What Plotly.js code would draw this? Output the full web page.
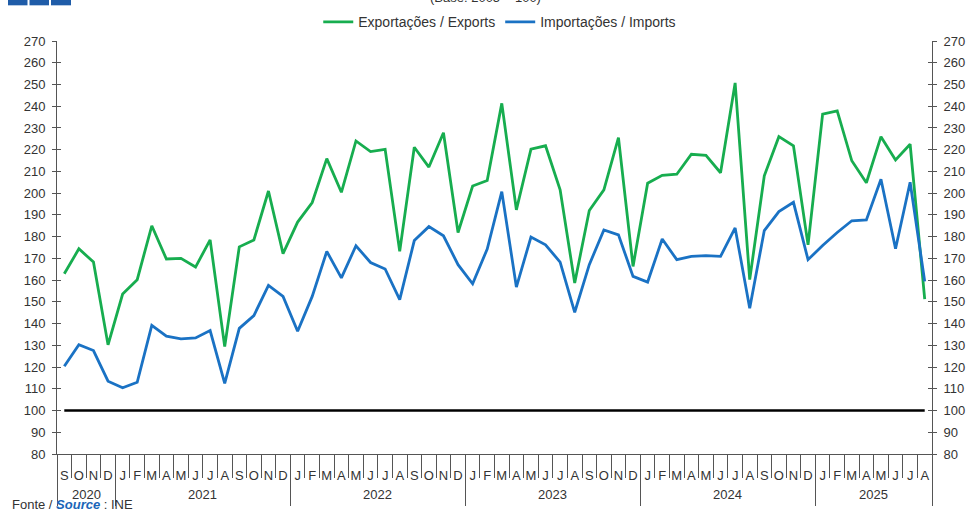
<!DOCTYPE html>
<html>
<head>
<meta charset="utf-8">
<script src="https://cdn.plot.ly/plotly-3.0.1.min.js"></script>
<style>html,body{margin:0;padding:0;background:#fff;}#chart{width:970px;height:511px;}</style>
</head>
<body>
<div id="chart"></div>
<script>
// ---- data ----
const monthLabels = ['S','O','N','D',
  'J','F','M','A','M','J','J','A','S','O','N','D',
  'J','F','M','A','M','J','J','A','S','O','N','D',
  'J','F','M','A','M','J','J','A','S','O','N','D',
  'J','F','M','A','M','J','J','A','S','O','N','D',
  'J','F','M','A','M','J','J','A'];
const years = ['2020','2021','2022','2023','2024','2025'];
const monthsPerYear = [4,12,12,12,12,8];
const exportsIdx = [162.9,174.4,168.3,130.2,
  153.6,160.2,185.0,169.7,170.0,166.0,178.5,129.4,175.3,178.5,201.0,172.2,
  186.7,195.7,215.9,200.4,224.0,219.1,220.2,173.2,221.1,212.0,227.8,181.9,
  203.3,205.8,241.3,192.3,220.2,221.8,201.5,158.7,192.0,201.5,225.5,166.3,
  204.6,208.2,208.7,217.9,217.4,209.4,250.7,160.2,208.0,226.0,221.8,176.2,
  236.4,237.9,214.9,204.8,226.0,215.3,222.5,151.3];
const importsIdx = [120.4,130.3,127.6,113.5,
  110.5,113.0,139.2,134.2,133.0,133.4,136.8,112.5,137.8,143.7,157.6,152.5,
  136.5,152.5,173.2,161.0,175.8,168.1,165.1,151.0,178.2,184.6,180.4,167.1,
  158.3,174.3,200.7,156.8,179.8,176.2,168.3,145.2,167.1,183.1,180.8,161.7,
  159.1,178.9,169.4,170.9,171.3,170.9,184.0,147.0,182.8,191.5,195.8,169.4,
  175.9,181.9,187.3,187.7,206.4,174.4,205.0,159.4];
const baseValue = 100;
const seriesNames = ['Exportações / Exports','Importações / Imports'];

// ---- derived ----
const n = monthLabels.length;
const xs = monthLabels.map((_, i) => i);
const monthBounds = [];
for (let i = 0; i <= n; i++) monthBounds.push(i - 0.5);
const yearBounds = [-0.5];
const yearCenters = [];
let acc = 0;
monthsPerYear.forEach(m => { yearCenters.push(acc + (m - 1) / 2); acc += m; yearBounds.push(acc - 0.5); });

const xr = [-0.5, n - 0.5];
const yr = [80, 270];
const txt = '#333333';
const axc = '#555555';
const fnt = 'Liberation Sans, Arial, sans-serif';

const traces = [
  {x: xs, y: exportsIdx, name: seriesNames[0], type: 'scatter', mode: 'lines',
   line: {color: '#17ad4f', width: 2.8}, xaxis: 'x', yaxis: 'y'},
  {x: xs, y: importsIdx, name: seriesNames[1], type: 'scatter', mode: 'lines',
   line: {color: '#1a72c4', width: 2.8}, xaxis: 'x', yaxis: 'y'},
  {x: [null], y: [null], showlegend: false, hoverinfo: 'skip', xaxis: 'x2', yaxis: 'y2', mode: 'lines'},
  {x: [null], y: [null], showlegend: false, hoverinfo: 'skip', xaxis: 'x3', yaxis: 'y3', mode: 'lines'},
  {x: [null], y: [null], showlegend: false, hoverinfo: 'skip', xaxis: 'x', yaxis: 'y4', mode: 'lines'}
];

const HH = 511, pTop = 40.7, pBottom = 454, pLeft = 57, pRight = 932;
const ph = pBottom - pTop, pw = pRight - pLeft;
const py = p => (pBottom - p) / ph;   // pixel y -> paper y
const px = p => (p - pLeft) / pw;     // pixel x -> paper x

const layout = {
  width: 970, height: 511,
  margin: {l: pLeft, r: 970 - pRight, t: pTop, b: HH - pBottom, pad: 0, autoexpand: false},
  paper_bgcolor: '#fff', plot_bgcolor: '#fff',
  font: {family: fnt, size: 13, color: txt},
  showlegend: true,
  legend: {orientation: 'h', x: 0.506, xanchor: 'center', y: py(22), yanchor: 'middle',
           font: {size: 14, color: txt}, itemwidth: 30, tracegroupgap: 0, bgcolor: 'rgba(0,0,0,0)'},
  xaxis: {range: xr, tickvals: xs, ticktext: monthLabels, ticks: 'outside', ticklen: 9,
          tickcolor: 'rgba(0,0,0,0)', showline: true, linecolor: axc, linewidth: 1,
          showgrid: false, zeroline: false, tickfont: {size: 13, color: txt}, fixedrange: true},
  xaxis2: {range: xr, overlaying: 'x', anchor: 'y', tickvals: monthBounds, ticktext: monthBounds.map(() => ''),
           ticks: 'outside', ticklen: 23, tickcolor: axc, tickwidth: 1, showticklabels: false,
           showline: false, showgrid: false, zeroline: false},
  xaxis3: {range: xr, overlaying: 'x', anchor: 'y', tickvals: yearBounds, ticktext: yearBounds.map(() => ''),
           ticks: 'outside', ticklen: 51, tickcolor: axc, tickwidth: 1, showticklabels: false,
           showline: false, showgrid: false, zeroline: false},
  yaxis: {range: yr, dtick: 10, tick0: 80, ticks: 'outside', ticklen: 4, tickcolor: axc,
          showline: true, linecolor: axc, linewidth: 1, showgrid: false, zeroline: false,
          ticklabelstandoff: 4, tickfont: {size: 13, color: txt}},
  yaxis2: {range: yr, dtick: 10, tick0: 80, overlaying: 'y', side: 'right', anchor: 'x2',
           ticks: 'outside', ticklen: 4, tickcolor: axc, showline: true, linecolor: axc, linewidth: 1,
           showgrid: false, zeroline: false, ticklabelstandoff: 4, tickfont: {size: 13, color: txt}},
  yaxis3: {range: yr, dtick: 10, tick0: 80, overlaying: 'y', side: 'left', anchor: 'x3',
           ticks: 'inside', ticklen: 4, tickcolor: axc, showticklabels: false, showline: false,
           showgrid: false, zeroline: false},
  yaxis4: {range: yr, dtick: 10, tick0: 80, overlaying: 'y', side: 'right', anchor: 'x',
           ticks: 'inside', ticklen: 4, tickcolor: axc, showticklabels: false, showline: false,
           showgrid: false, zeroline: false},
  shapes: [
    {type: 'line', xref: 'x', yref: 'y', x0: xs[0], x1: xs[n - 1], y0: baseValue, y1: baseValue,
     line: {color: '#000', width: 2.5}, layer: 'below'},
    {type: 'rect', xref: 'paper', yref: 'paper', x0: px(8), x1: px(27.5), y0: py(5), y1: py(-2),
     fillcolor: '#1f5ca8', line: {width: 0}},
    {type: 'rect', xref: 'paper', yref: 'paper', x0: px(29.5), x1: px(49), y0: py(5), y1: py(-2),
     fillcolor: '#1f5ca8', line: {width: 0}},
    {type: 'rect', xref: 'paper', yref: 'paper', x0: px(51), x1: px(71), y0: py(5), y1: py(-2),
     fillcolor: '#1f5ca8', line: {width: 0}}
  ],
  annotations: [
    ...years.map((yy, i) => ({text: yy, xref: 'x', yref: 'paper', x: yearCenters[i], y: py(495),
      xanchor: 'center', yanchor: 'middle', showarrow: false, font: {size: 13, color: txt}})),
    {text: 'Fonte / <b><i><span style="color:#1a65b8">Source</span></i></b> : INE', xref: 'paper', yref: 'paper',
     x: px(10), y: py(505), xanchor: 'left', yanchor: 'middle', showarrow: false, font: {size: 13, color: txt}},
    {text: '(Base: 2005 = 100)', xref: 'paper', yref: 'paper', x: px(485), y: py(-3), xanchor: 'center',
     yanchor: 'middle', showarrow: false, font: {size: 13, color: txt}}
  ]
};

Plotly.newPlot('chart', traces, layout, {displayModeBar: false, staticPlot: true});
</script>
</body>
</html>
